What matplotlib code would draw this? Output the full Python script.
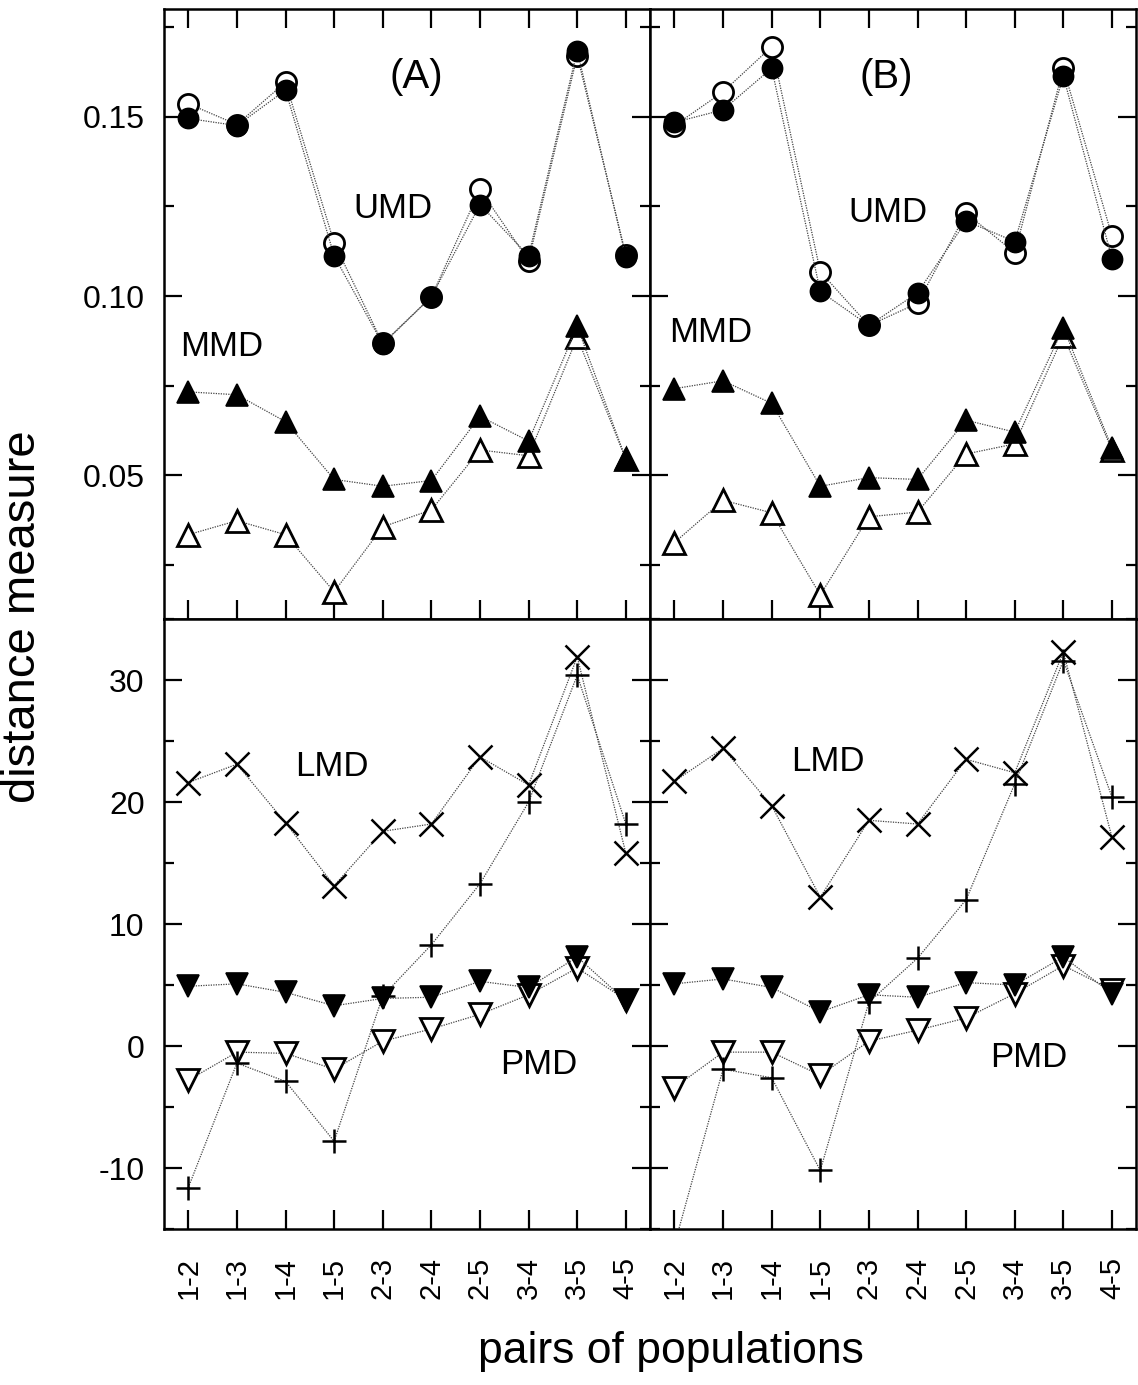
import matplotlib
matplotlib.use("Agg")
import matplotlib.pyplot as plt
from matplotlib.ticker import MultipleLocator, FormatStrFormatter

plt.rcParams['font.family'] = ['Liberation Sans', 'DejaVu Sans']
plt.rcParams['axes.unicode_minus'] = False

pairs = ["1-2", "1-3", "1-4", "1-5", "2-3", "2-4", "2-5", "3-4", "3-5", "4-5"]
x = list(range(1, len(pairs) + 1))

# panel A, upper: UMD (circles) and MMD (up triangles)
umd_open_A = [0.1536, 0.1478, 0.1596, 0.1148, 0.0868, 0.0998, 0.1297, 0.1099, 0.1670, 0.1115]
umd_fill_A = [0.1495, 0.1475, 0.1574, 0.1112, 0.0866, 0.0998, 0.1255, 0.1112, 0.1684, 0.1108]
mmd_fill_A = [0.0733, 0.0725, 0.0650, 0.0489, 0.0470, 0.0486, 0.0665, 0.0596, 0.0916, 0.0546]
mmd_open_A = [0.0335, 0.0374, 0.0335, 0.0176, 0.0357, 0.0404, 0.0571, 0.0555, 0.0885, 0.0545]

# panel B, upper
umd_open_B = [0.1475, 0.1569, 0.1695, 0.1068, 0.0918, 0.0980, 0.1231, 0.1121, 0.1635, 0.1167]
umd_fill_B = [0.1484, 0.1519, 0.1635, 0.1013, 0.0918, 0.1009, 0.1209, 0.1152, 0.1613, 0.1104]
mmd_fill_B = [0.0742, 0.0764, 0.0701, 0.0470, 0.0494, 0.0489, 0.0654, 0.0621, 0.0912, 0.0577]
mmd_open_B = [0.0313, 0.0431, 0.0396, 0.0167, 0.0385, 0.0398, 0.0560, 0.0588, 0.0890, 0.0571]

# panel A, lower: LMD (x and +) and PMD (down triangles)
lmd_x_A = [21.6, 23.1, 18.3, 13.15, 17.6, 18.2, 23.7, 21.4, 31.9, 15.8]
lmd_plus_A = [-11.6, -1.4, -2.9, -7.8, 4.1, 8.3, 13.3, 20.0, 30.4, 18.2]
pmd_fill_A = [4.9, 5.1, 4.4, 3.3, 3.9, 4.0, 5.3, 4.8, 7.3, 3.7]
pmd_open_A = [-2.8, -0.5, -0.6, -1.9, 0.4, 1.4, 2.6, 4.2, 6.4, 3.8]

# panel B, lower
lmd_x_B = [21.7, 24.4, 19.7, 12.2, 18.5, 18.2, 23.5, 22.4, 32.3, 17.1]
lmd_plus_B = [-16.3, -1.9, -2.6, -10.2, 3.6, 7.2, 12.0, 21.5, 31.6, 20.4]
pmd_fill_B = [5.1, 5.5, 4.8, 2.8, 4.2, 4.0, 5.2, 5.0, 7.3, 4.3]
pmd_open_B = [-3.4, -0.5, -0.5, -2.4, 0.4, 1.3, 2.3, 4.3, 6.6, 4.6]

line_kw = dict(color="#444444", lw=0.9, ls=(0, (1, 1)))


def series(ax, y, marker, filled, ms=16, z=3):
    if filled:
        ax.plot(x, y, marker=marker, ms=ms, mfc="black", mec="black", mew=1.2,
                zorder=z, **line_kw)
    elif marker in ("x", "+"):
        ax.plot(x, y, marker=marker, ms=ms, mec="black", mew=1.8,
                zorder=z, **line_kw)
    else:
        ax.plot(x, y, marker=marker, ms=ms, mfc="white", mec="black", mew=2.0,
                zorder=z, **line_kw)


fig = plt.figure(figsize=(11.38, 13.85), dpi=100)
gs = fig.add_gridspec(2, 2, left=0.1441, right=0.9985, top=0.9935, bottom=0.1126,
                      wspace=0, hspace=0)
axes = [[fig.add_subplot(gs[r, c]) for c in range(2)] for r in range(2)]

top_data = [(umd_open_A, umd_fill_A, mmd_open_A, mmd_fill_A),
            (umd_open_B, umd_fill_B, mmd_open_B, mmd_fill_B)]
bot_data = [(lmd_x_A, lmd_plus_A, pmd_open_A, pmd_fill_A),
            (lmd_x_B, lmd_plus_B, pmd_open_B, pmd_fill_B)]

for c in range(2):
    ax = axes[0][c]
    uo, uf, mo, mf = top_data[c]
    series(ax, mo, "^", False, ms=16, z=3)
    series(ax, mf, "^", True, ms=16, z=4)
    series(ax, uo, "o", False, ms=14.5, z=3)
    series(ax, uf, "o", True, ms=14.5, z=4)
    ax.set_ylim(0.01, 0.18)
    ax.yaxis.set_major_locator(MultipleLocator(0.05))
    ax.yaxis.set_minor_locator(MultipleLocator(0.025))
    ax.yaxis.set_major_formatter(FormatStrFormatter("%.2f"))
    ax.tick_params(axis="x", which="both", top=True, bottom=True, labelbottom=False)

    ax = axes[1][c]
    lx, lp, po, pf = bot_data[c]
    series(ax, po, "v", False, ms=16, z=3)
    series(ax, pf, "v", True, ms=16, z=4)
    series(ax, lx, "x", False, ms=17, z=3)
    series(ax, lp, "+", False, ms=17, z=3)
    ax.set_ylim(-15, 35)
    ax.yaxis.set_major_locator(MultipleLocator(10))
    ax.yaxis.set_minor_locator(MultipleLocator(5))
    ax.tick_params(axis="x", which="both", top=False, bottom=True)
    ax.set_xticks(x)
    ax.set_xticklabels(pairs, rotation=90, fontsize=21)

for r in range(2):
    for c in range(2):
        ax = axes[r][c]
        ax.set_xlim(0.5, 10.5)
        ax.set_xticks(x)
        for sp in ax.spines.values():
            sp.set_linewidth(1.8)
        ax.tick_params(which="both", direction="in", left=True, right=True, width=1.6)
        ax.tick_params(axis="y", which="major", length=13, labelsize=23, pad=14)
        ax.tick_params(axis="y", which="minor", length=7.5)
        ax.tick_params(axis="x", length=13.5, pad=20)
        if c == 1:
            ax.tick_params(axis="y", which="both", labelleft=False)
        for lab in ax.get_xticklabels():
            lab.set_fontsize(21)

# panel texts
axes[0][0].text(0.52, 0.889, "(A)", transform=axes[0][0].transAxes, fontsize=29,
                ha="center", va="center")
axes[0][1].text(0.486, 0.889, "(B)", transform=axes[0][1].transAxes, fontsize=29,
                ha="center", va="center")
axes[0][0].text(5.2, 0.1245, "UMD", fontsize=25, ha="center", va="center")
axes[0][1].text(5.4, 0.1232, "UMD", fontsize=25, ha="center", va="center")
axes[0][0].text(1.69, 0.086, "MMD", fontsize=25, ha="center", va="center")
axes[0][1].text(1.75, 0.0898, "MMD", fontsize=25, ha="center", va="center")
axes[1][0].text(3.96, 22.9, "LMD", fontsize=25, ha="center", va="center")
axes[1][1].text(4.16, 23.3, "LMD", fontsize=25, ha="center", va="center")
axes[1][0].text(8.2, -1.5, "PMD", fontsize=25, ha="center", va="center")
axes[1][1].text(8.28, -0.9, "PMD", fontsize=25, ha="center", va="center")

fig.text(0.02, 0.555, "distance measure", rotation=90, fontsize=34,
         ha="center", va="center")
fig.text(0.59, 0.024, "pairs of populations", fontsize=32,
         ha="center", va="center")

fig.savefig("out.png", dpi=100)
